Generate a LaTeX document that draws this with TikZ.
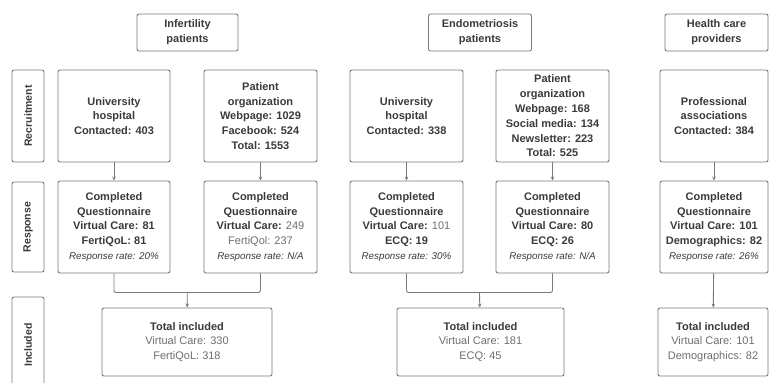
\documentclass[tikz,border=0pt]{standalone}
\usepackage{fontspec}
\setmainfont{Liberation Sans}
\usetikzlibrary{arrows.meta,positioning,calc}
\definecolor{frame}{HTML}{7A7A7A}
\definecolor{txt}{HTML}{3A3A3A}
\definecolor{soft}{HTML}{6E6E6E}
\newcommand{\soft}[1]{{\mdseries\color{soft}#1}}
\newcommand{\rate}[1]{{\mdseries\itshape\fontsize{9.8}{13}\selectfont #1}}

\begin{document}
\begin{tikzpicture}[x=1pt,y=-1pt,>={Stealth[length=4pt,width=3.5pt]},
  box/.style={draw=frame,line width=0.9pt,rounded corners=2pt,align=center,
    text=txt,font=\bfseries\fontsize{11}{14.8}\selectfont,inner sep=1pt},
  colbox/.style={box,minimum width=112pt,minimum height=92pt},
  rowlbl/.style={box,minimum width=92pt,minimum height=32pt,rotate=90,font=\bfseries\fontsize{10.5}{12}\selectfont},
  link/.style={draw=frame,line width=0.9pt}]
\useasboundingbox (0,0) rectangle (769,383);
\clip (0,0) rectangle (769,383);
% headers
\node[box,minimum width=101pt,minimum height=37pt] (hinf) at (187.5,32.5) {Infertility\\patients};
\node[box,minimum width=103pt,minimum height=37pt] (hendo) at (480,32.5) {Endometriosis\\patients};
\node[box,minimum width=103pt,minimum height=37pt] (hhcp) at (716.5,32.5) {Health care\\providers};
% row labels
\node[rowlbl] (lrec) at (28,116) {Recruitment};
\node[rowlbl,minimum width=90pt] (lresp) at (28,227) {Response};
\node[rowlbl,minimum width=96pt] (linc) at (28,345) {Included};
% recruitment
\node[colbox] (rec1) at (114,116) {University\\hospital\\Contacted: 403};
\node[colbox,minimum width=113pt] (rec2) at (260.5,116) {Patient\\organization\\Webpage: 1029\\Facebook: 524\\Total: 1553};
\node[colbox,minimum width=113pt] (rec3) at (406.5,116) {University\\hospital\\Contacted: 338};
\node[colbox,minimum width=113pt] (rec4) at (552.5,116) {Patient\\organization\\Webpage: 168\\Social media: 134\\Newsletter: 223\\Total: 525};
\node[colbox,minimum width=108pt] (rec5) at (714,116) {Professional\\associations\\Contacted: 384};
% response
\node[colbox] (resp1) at (114,227) {Completed\\Questionnaire\\Virtual Care: 81\\FertiQoL: 81\\\rate{Response rate: 20\%}};
\node[colbox,minimum width=113pt] (resp2) at (260.5,227) {Completed\\Questionnaire\\Virtual Care: \soft{249}\\\soft{FertiQol: 237}\\\rate{Response rate: N/A}};
\node[colbox,minimum width=113pt] (resp3) at (406.5,227) {Completed\\Questionnaire\\Virtual Care: \soft{101}\\ECQ: 19\\\rate{Response rate: 30\%}};
\node[colbox,minimum width=113pt] (resp4) at (552.5,227) {Completed\\Questionnaire\\Virtual Care: 80\\ECQ: 26\\\rate{Response rate: N/A}};
\node[colbox,minimum width=108pt] (resp5) at (714,227) {Completed\\Questionnaire\\Virtual Care: 101\\Demographics: 82\\\rate{Response rate: 26\%}};
% included
\node[box,minimum width=170pt,minimum height=68pt] (tot1) at (187,342) {Total included\\\soft{Virtual Care: 330}\\\soft{FertiQoL: 318}};
\node[box,minimum width=167pt,minimum height=68pt] (tot2) at (480.5,342) {Total included\\\soft{Virtual Care: 181}\\\soft{ECQ: 45}};
\node[box,minimum width=110pt,minimum height=68pt] (tot3) at (713,342) {Total included\\\soft{Virtual Care: 101}\\\soft{Demographics: 82}};
% arrows
\foreach \i in {1,...,5}
  \draw[link,->] (rec\i) -- (resp\i);
\coordinate (m1) at ($(resp1.south)!0.5!(resp2.south)+(0,19)$);
\coordinate (m2) at ($(resp3.south)!0.5!(resp4.south)+(0,19)$);
\draw[link,rounded corners=2pt] (resp1.south) |- (m1) -| (resp2.south);
\draw[link,rounded corners=2pt] (resp3.south) |- (m2) -| (resp4.south);
\draw[link,->] (m1) -- (tot1);
\draw[link,->] (m2) -- (tot2);
\draw[link,->] (resp5) -- (tot3);
\end{tikzpicture}
\end{document}
